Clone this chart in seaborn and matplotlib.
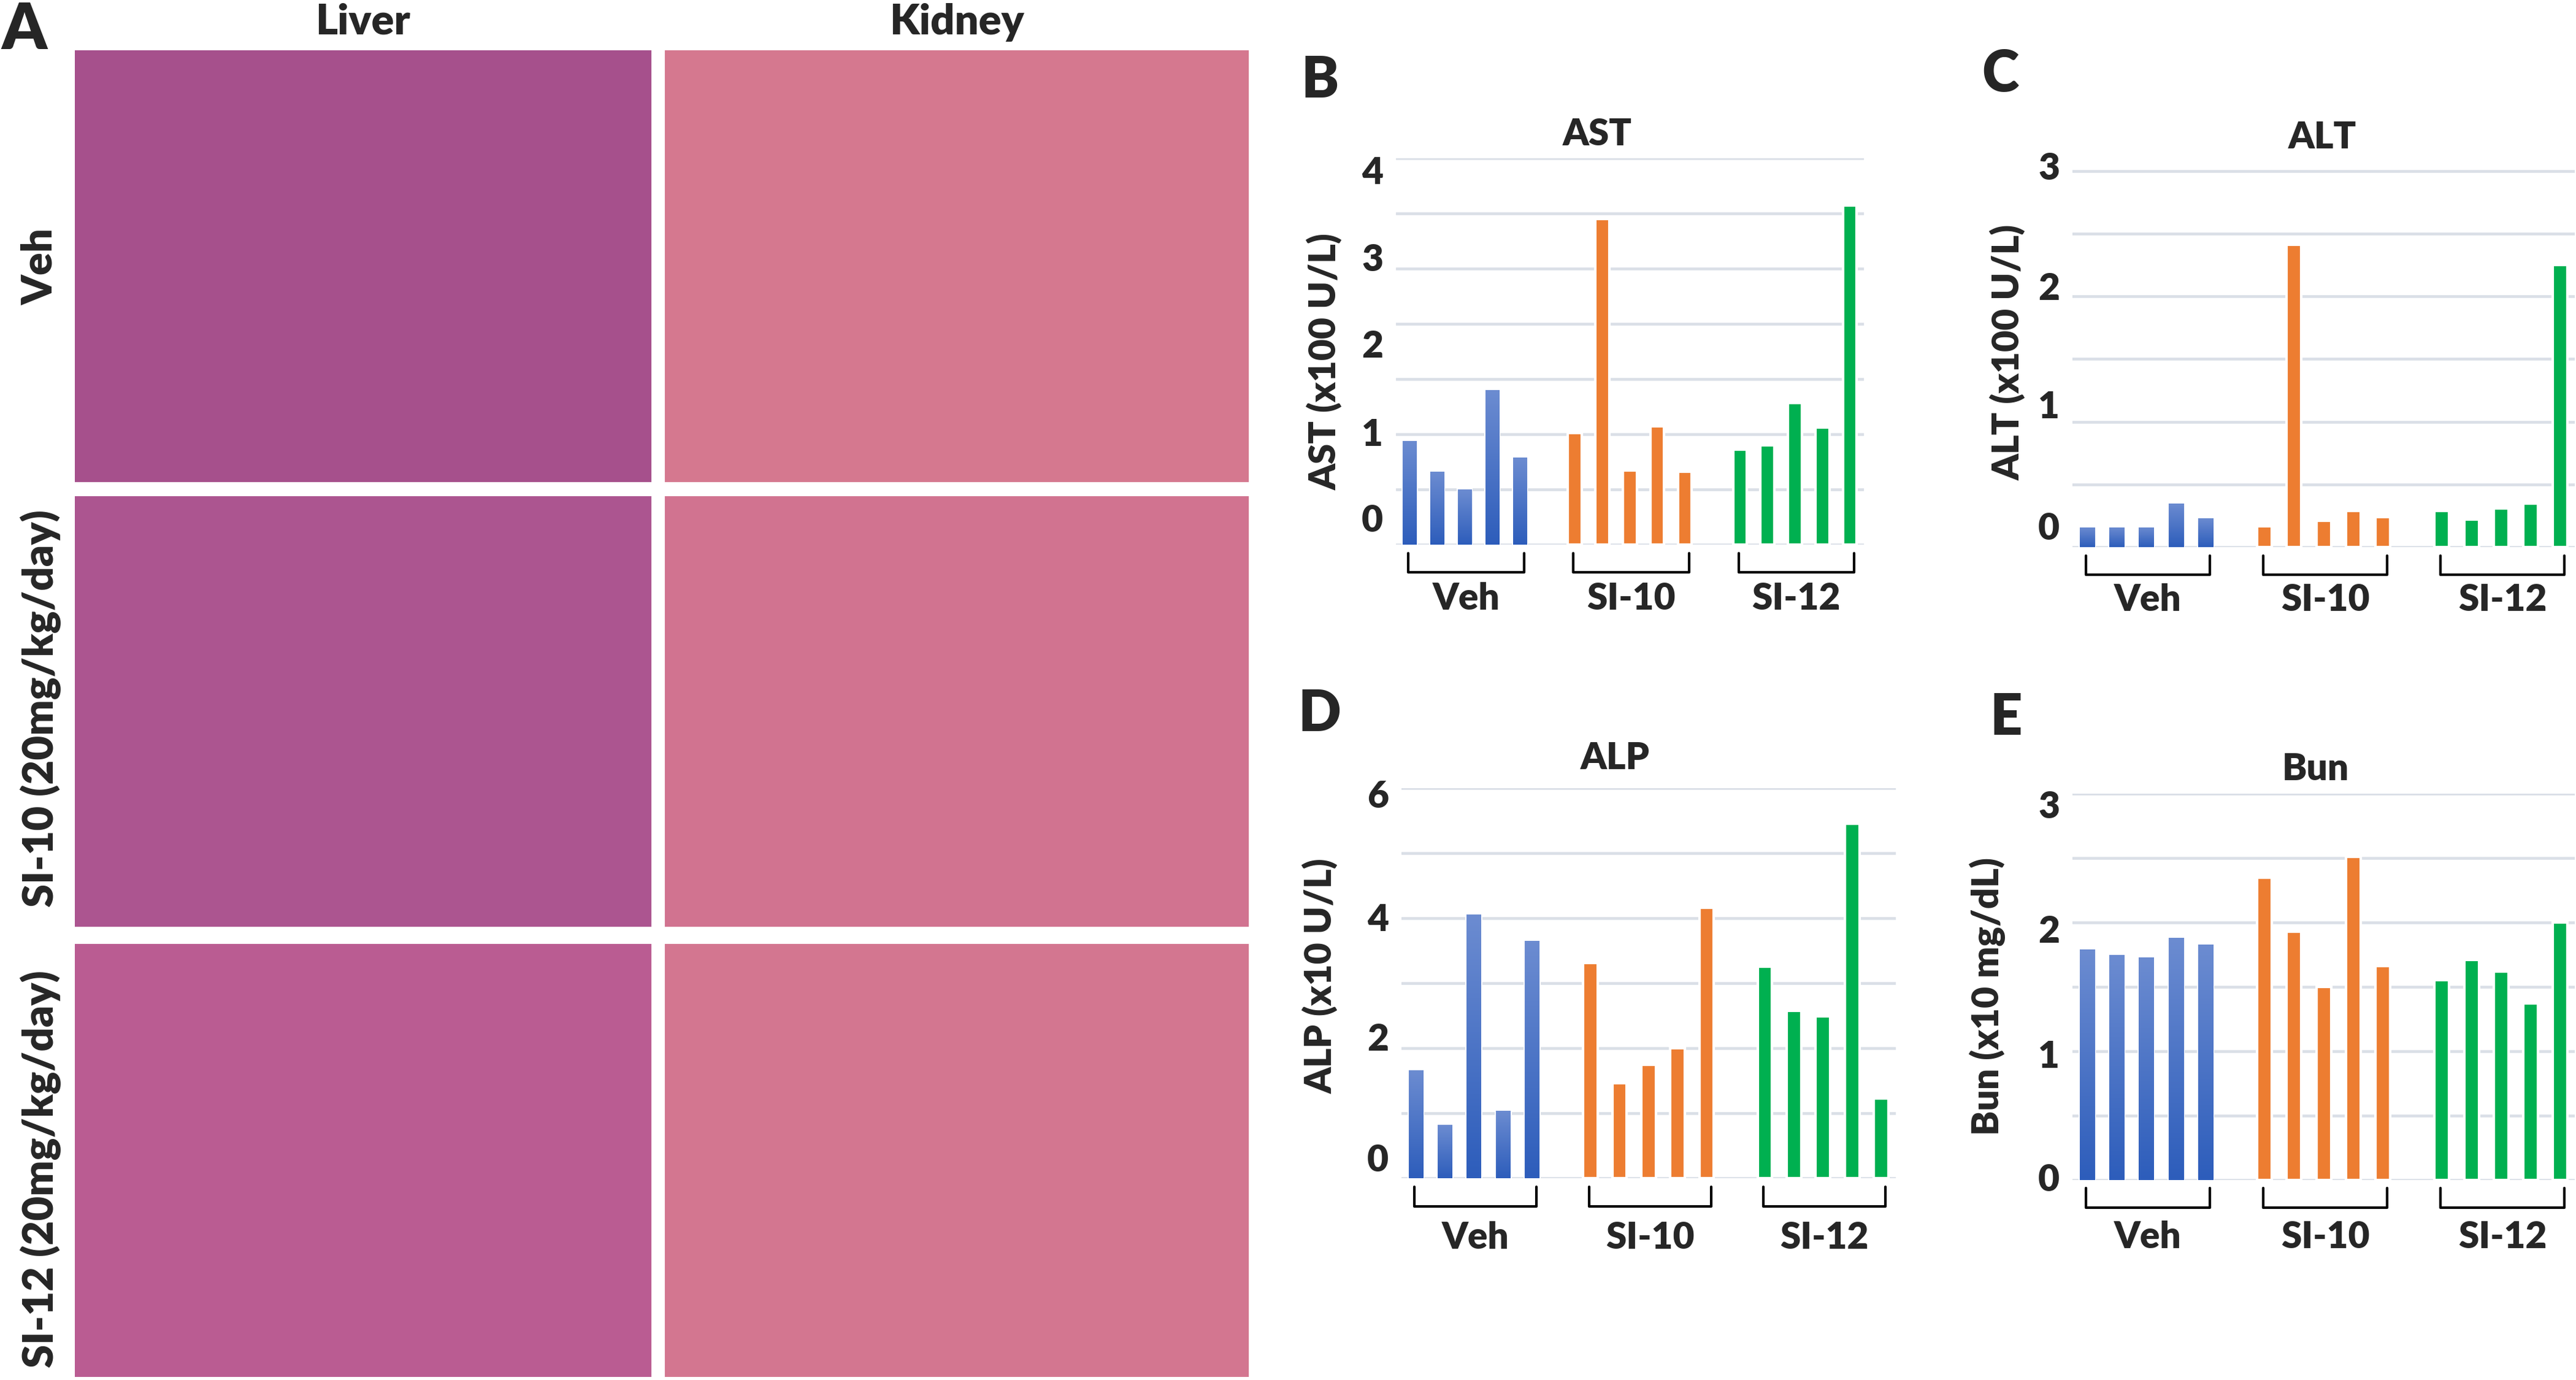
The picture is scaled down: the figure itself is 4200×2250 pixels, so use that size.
import numpy as np
import pandas as pd
import matplotlib
matplotlib.use("Agg")
import matplotlib.pyplot as plt
import seaborn as sns
from matplotlib.colors import LinearSegmentedColormap

# ---- data (bar heights in gridline units of each panel) ----
groups = ["Veh", "SI-10", "SI-12"]

ast_veh = [0.94, 0.66, 0.50, 1.40, 0.79]
ast_si10 = [1.01, 2.95, 0.67, 1.07, 0.66]
ast_si12 = [0.86, 0.90, 1.28, 1.06, 3.07]

alt_veh = [0.16, 0.16, 0.16, 0.35, 0.23]
alt_si10 = [0.17, 2.41, 0.21, 0.29, 0.24]
alt_si12 = [0.29, 0.22, 0.31, 0.35, 2.25]

alp_veh = [1.66, 0.82, 4.06, 1.04, 3.65]
alp_si10 = [3.31, 1.46, 1.75, 2.00, 4.16]
alp_si12 = [3.26, 2.58, 2.49, 5.45, 1.23]

bun_veh = [1.79, 1.75, 1.73, 1.88, 1.83]
bun_si10 = [2.35, 1.93, 1.50, 2.51, 1.66]
bun_si12 = [1.55, 1.71, 1.62, 1.37, 2.00]

# printed tick labels (they sit off the gridlines in the original figure)
ast_tick_labels = ["0", "1", "2", "3", "4"]
ast_tick_pos = [0.24, 1.02, 1.82, 2.60, 3.39]
alt_tick_labels = ["0", "1", "2", "3"]
alt_tick_pos = [0.17, 1.14, 2.08, 3.04]
alp_tick_labels = ["0", "2", "4", "6"]
alp_tick_pos = [0.32, 2.18, 4.02, 5.91]
bun_tick_labels = ["0", "1", "2", "3"]
bun_tick_pos = [0.02, 0.98, 1.95, 2.92]

row_labels = ["Veh", "SI-10 (20mg/kg/day)", "SI-12 (20mg/kg/day)"]
col_labels = ["Liver", "Kidney"]

# ---- style ----
group_colors = {"Veh": "#4472C4", "SI-10": "#ED7D31", "SI-12": "#00B050"}
veh_cmap = LinearSegmentedColormap.from_list("veh", ["#2D5DBB", "#6C8CD1"])
group_start = {"Veh": 0, "SI-10": 6, "SI-12": 12}
grid_color = "#DADFE7"
W = "heavy"

sns.set_style("white")
plt.rcParams["font.family"] = ["Lato", "DejaVu Sans"]
plt.rcParams["font.weight"] = W


def make_df(veh, si10, si12):
    rows = []
    for g, vals in zip(groups, [veh, si10, si12]):
        for k, v in enumerate(vals):
            rows.append({"slot": group_start[g] + k, "value": v, "group": g})
    return pd.DataFrame(rows)


panels = [
    dict(letter="B", title="AST", ylabel="AST (x100 U/L)",
         df=make_df(ast_veh, ast_si10, ast_si12), top=3.5, step=0.5,
         ticks=ast_tick_pos, labels=ast_tick_labels,
         rect=[0.5419, 0.6054, 0.1816, 0.2800], title_xy=(0.43, 1.061),
         ylab_xy=(-0.152, 0.474), grp_y=-0.141, letter_xy=(0.5052, 0.9606)),
    dict(letter="C", title="ALT", ylabel="ALT (x100 U/L)",
         df=make_df(alt_veh, alt_si10, alt_si12), top=3.0, step=0.5,
         ticks=alt_tick_pos, labels=alt_tick_labels,
         rect=[0.8045, 0.6034, 0.1951, 0.2764], title_xy=(0.497, 1.074),
         ylab_xy=(-0.128, 0.511), grp_y=-0.138, letter_xy=(0.7693, 0.9649)),
    dict(letter="D", title="ALP", ylabel="ALP (x10 U/L)",
         df=make_df(alp_veh, alp_si10, alp_si12), top=6.0, step=1.0,
         ticks=alp_tick_pos, labels=alp_tick_labels,
         rect=[0.5440, 0.1462, 0.1919, 0.2826], title_xy=(0.432, 1.076),
         ylab_xy=(-0.164, 0.518), grp_y=-0.154, letter_xy=(0.5040, 0.5013)),
    dict(letter="E", title="Bun", ylabel="Bun (x10 mg/dL)",
         df=make_df(bun_veh, bun_si10, bun_si12), top=3.0, step=0.5,
         ticks=bun_tick_pos, labels=bun_tick_labels,
         rect=[0.8045, 0.1451, 0.1951, 0.2796], title_xy=(0.484, 1.063),
         ylab_xy=(-0.169, 0.476), grp_y=-0.150, letter_xy=(0.7726, 0.4986)),
]

fig = plt.figure(figsize=(14, 7.5), dpi=300)

# ---- panel A: histology tiles (flat tissue tones) ----
tile_x = [(0.02905, 0.2238), (0.2581, 0.2267)]
tile_y = [(0.6507, 0.3129), (0.3284, 0.3120), (0.0022, 0.3138)]
tile_colors = [["#A6508C", "#D5788F"],
               ["#AC5590", "#D17390"],
               ["#BA5C92", "#D37690"]]
for r, (y0, h) in enumerate(tile_y):
    for c, (x0, w) in enumerate(tile_x):
        tax = fig.add_axes([x0, y0, w, h])
        tax.set_facecolor(tile_colors[r][c])
        tax.set_xticks([])
        tax.set_yticks([])
        for s in tax.spines.values():
            s.set_visible(False)

for (x0, w), lab in zip(tile_x, col_labels):
    fig.text(x0 + w / 2, 0.984, lab, ha="center", va="center", fontsize=16.5, fontweight=W)
row_centers = [0.807, 0.4865, 0.153]
for yc, lab in zip(row_centers, row_labels):
    fig.text(0.0158, yc, lab, ha="center", va="center", rotation=90, fontsize=16.5, fontweight=W)
fig.text(0.0005, 0.999, "A", ha="left", va="top", fontsize=25, fontweight=W)

# ---- panels B-E: bar charts ----
for p in panels:
    ax = fig.add_axes(p["rect"])
    sns.barplot(data=p["df"], x="slot", y="value", hue="group", palette=group_colors,
                native_scale=True, dodge=False, width=0.5, saturation=1,
                errorbar=None, legend=False, ax=ax, zorder=3)

    # vehicle bars carry a vertical gradient fill
    for patch in list(ax.patches):
        if patch.get_x() + patch.get_width() / 2 < 5:
            x0, y0 = patch.get_x(), patch.get_y()
            w, h = patch.get_width(), patch.get_height()
            grad = np.linspace(0, 1, 256).reshape(-1, 1)
            im = ax.imshow(grad, cmap=veh_cmap, origin="lower", aspect="auto",
                           extent=[x0, x0 + w, y0, y0 + h], zorder=3.5,
                           interpolation="bilinear")
            im.set_clip_path(patch)

    ax.set_xlim(-0.5, 16.5)
    ax.set_ylim(0, p["top"])
    ax.set_yticks(p["ticks"], p["labels"])
    ax.set_yticks(np.arange(0, p["top"] + 0.01, p["step"]), minor=True)
    ax.yaxis.grid(False, which="major")
    ax.yaxis.grid(True, which="minor", color=grid_color, lw=1.1)
    ax.set_axisbelow(True)
    ax.tick_params(axis="y", which="both", length=0, pad=5, labelsize=14.5)
    for t in ax.get_yticklabels():
        t.set_fontweight(W)
    ax.tick_params(axis="x", bottom=False, labelbottom=False)
    sns.despine(ax=ax, left=True, bottom=True)
    ax.set_xlabel("")
    ax.set_ylabel(p["ylabel"], fontsize=14.5, fontweight=W, va="center")
    ax.yaxis.set_label_coords(*p["ylab_xy"])

    ax.text(p["title_xy"][0], p["title_xy"][1], p["title"], transform=ax.transAxes,
            ha="center", va="center", fontsize=14.5, fontweight=W)

    trans = ax.get_xaxis_transform()
    for g in groups:
        s0 = group_start[g] - 0.05
        s1 = group_start[g] + 4 + 0.15
        ax.plot([s0, s0, s1, s1], [-0.022, -0.072, -0.072, -0.022], transform=trans,
                color="black", lw=1.0, clip_on=False, solid_joinstyle="round")
        ax.text((s0 + s1) / 2, p["grp_y"], g, transform=trans, ha="center", va="center",
                fontsize=14.5, fontweight=W)

    fig.text(p["letter_xy"][0], p["letter_xy"][1], p["letter"], ha="left", va="top",
             fontsize=22, fontweight=W)

fig.savefig("out.png", dpi=300)
